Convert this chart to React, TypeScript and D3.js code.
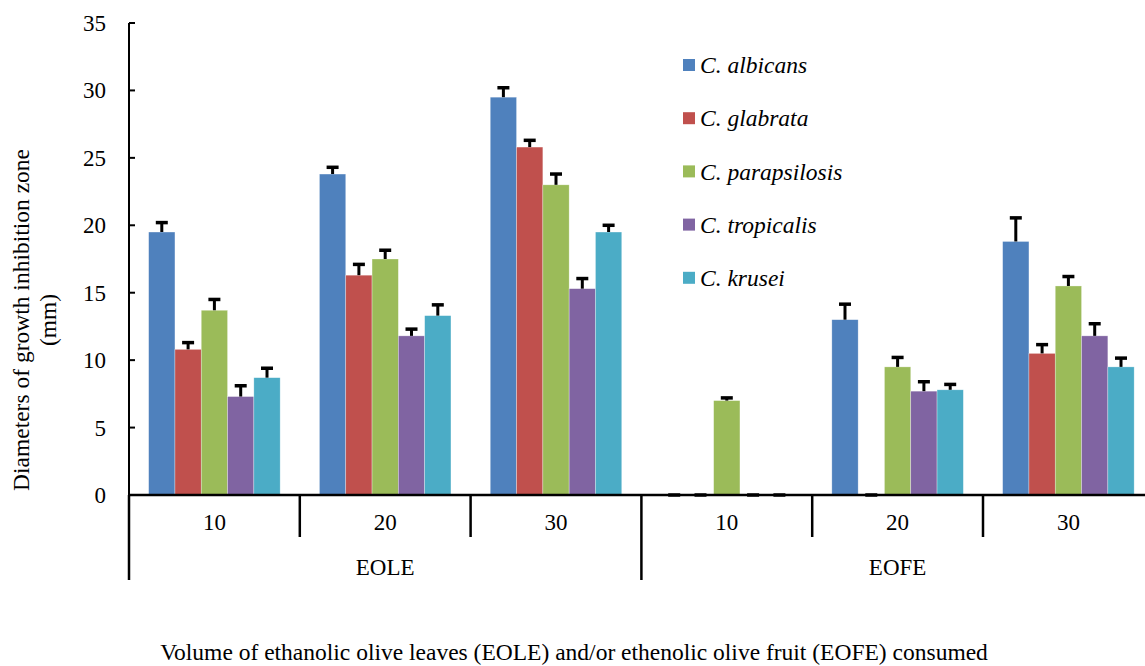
import React from 'react';
import * as d3 from 'd3';

const groups = ["EOLE", "EOFE"];
const volumes = ["10", "20", "30"];
const seriesNames = ["C. albicans", "C. glabrata", "C. parapsilosis", "C. tropicalis", "C. krusei"];
const colors = ["#4F81BD", "#C0504D", "#9BBB59", "#8064A2", "#4BACC6"];

// one list per species, in order EOLE 10,20,30 then EOFE 10,20,30
const albicans = [19.5, 23.8, 29.5, 0, 13.0, 18.8];
const glabrata = [10.8, 16.3, 25.8, 0, 0, 10.5];
const parapsilosis = [13.7, 17.5, 23.0, 7.0, 9.5, 15.5];
const tropicalis = [7.3, 11.8, 15.3, 0, 7.7, 11.8];
const krusei = [8.7, 13.3, 19.5, 0, 7.8, 9.5];

const albicansErr = [0.7, 0.5, 0.7, 0, 1.15, 1.75];
const glabrataErr = [0.5, 0.8, 0.5, 0, 0, 0.65];
const parapsilosisErr = [0.8, 0.65, 0.8, 0.2, 0.7, 0.7];
const tropicalisErr = [0.8, 0.5, 0.75, 0, 0.7, 0.9];
const kruseiErr = [0.7, 0.8, 0.5, 0, 0.4, 0.65];

const yTicks = [0, 5, 10, 15, 20, 25, 30, 35];

const values = [albicans, glabrata, parapsilosis, tropicalis, krusei];
const errors = [albicansErr, glabrataErr, parapsilosisErr, tropicalisErr, kruseiErr];

const width = 1145;
const height = 666;
const left = 129;
const top = 23;
const bottom = 495;
const groupW = 170.8;
const font = "'Liberation Serif', 'Times New Roman', serif";
const fs = 23;

const App = () => {
    const cats = groups.flatMap(g => volumes.map(v => g + "-" + v));
    const x = d3.scaleBand()
        .domain(cats)
        .range([left, left + groupW * cats.length])
        .padding(0);
    const inner = d3.scaleBand()
        .domain(seriesNames)
        .range([0, x.bandwidth()])
        .paddingInner(0)
        .paddingOuter(0.747);
    const y = d3.scaleLinear().domain([0, 35]).range([bottom, top]);
    const capW = 12;
    const txt = {fontFamily: font};

    return (
        <svg width={width} height={height} style={{position: 'absolute', left: 0, top: 0, background: '#fff', fontFamily: font}}>
            {/* bars */}
            {seriesNames.map((s, si) => (
                <g key={s}>
                    {cats.map((c, ci) => {
                        const v = values[si][ci];
                        const bx = (x(c) || 0) + (inner(s) || 0);
                        return v > 0 ? (
                            <rect key={c} x={bx} y={y(v)} width={inner.bandwidth()} height={bottom - y(v)}
                                  fill={colors[si]} stroke="#ffffff" strokeOpacity={0.5} strokeWidth={0.6}/>
                        ) : null;
                    })}
                </g>
            ))}
            {/* error bars */}
            {seriesNames.map((s, si) => (
                <g key={s + "err"}>
                    {cats.map((c, ci) => {
                        const v = values[si][ci];
                        const e = errors[si][ci];
                        const cx = (x(c) || 0) + (inner(s) || 0) + inner.bandwidth() / 2;
                        const yt = y(v + e);
                        return (
                            <g key={c}>
                                {e > 0 && <line x1={cx} x2={cx} y1={y(v)} y2={yt} stroke="#000" strokeWidth={3}/>}
                                <line x1={cx - capW / 2} x2={cx + capW / 2} y1={yt} y2={yt} stroke="#000" strokeWidth={3.5}/>
                            </g>
                        );
                    })}
                </g>
            ))}
            {/* y axis */}
            <line x1={left} x2={left} y1={top} y2={580} stroke="#000" strokeWidth={2}/>
            {yTicks.map(t => (
                <g key={t}>
                    <line x1={left} x2={left + 6} y1={y(t)} y2={y(t)} stroke="#000" strokeWidth={2}/>
                    <text x={106} y={y(t)} dy="0.35em" textAnchor="end" fontSize={fs} style={txt}>{t}</text>
                </g>
            ))}
            {/* x axis */}
            <line x1={left} x2={width} y1={bottom} y2={bottom} stroke="#000" strokeWidth={2.5}/>
            {cats.map((c, ci) => {
                const x0 = x(c) || 0;
                const isGroupStart = ci % volumes.length === 0;
                return (
                    <g key={c}>
                        <line x1={x0} x2={x0} y1={bottom} y2={isGroupStart ? 580 : 537} stroke="#000" strokeWidth={2.5}/>
                        <text x={x0 + x.bandwidth() / 2} y={522} dy="0.35em" textAnchor="middle" fontSize={fs} style={txt}>
                            {volumes[ci % volumes.length]}
                        </text>
                    </g>
                );
            })}
            {groups.map(g => {
                const x0 = x(g + "-" + volumes[0]) || 0;
                return (
                    <text key={g} x={x0 + x.bandwidth() * volumes.length / 2} y={567} dy="0.35em"
                          textAnchor="middle" fontSize={fs} style={txt}>{g}</text>
                );
            })}
            {/* axis titles */}
            <text x={574} y={652} dy="0.35em" textAnchor="middle" fontSize={23.5} style={txt}>
                Volume of ethanolic olive leaves (EOLE) and/or ethenolic olive fruit (EOFE) consumed
            </text>
            <text transform="translate(21,320) rotate(-90)" textAnchor="middle" dy="0.35em" fontSize={23.5} style={txt}>
                Diameters of growth inhibition zone
            </text>
            <text transform="translate(48,320) rotate(-90)" textAnchor="middle" dy="0.35em" fontSize={23.5} style={txt}>
                (mm)
            </text>
            {/* legend */}
            {seriesNames.map((s, si) => {
                const ly = 65 + si * 53.2;
                return (
                    <g key={s + "leg"}>
                        <rect x={683} y={ly - 6} width={12} height={12} fill={colors[si]}/>
                        <text x={700} y={ly} dy="0.35em" fontSize={23.5} fontStyle="italic" style={txt}>{s}</text>
                    </g>
                );
            })}
        </svg>
    );
};

export default App;
